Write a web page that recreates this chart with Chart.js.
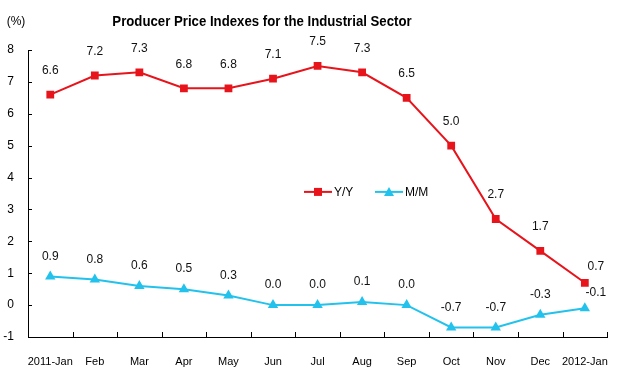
<!DOCTYPE html>
<html>
<head>
<meta charset="utf-8">
<script src="https://cdn.jsdelivr.net/npm/chart.js@4"></script>
<style>
  body { margin: 0; background: #fff; }
  #wrap { width: 618px; height: 369px; }
</style>
</head>
<body>
<div id="wrap"><canvas id="c" width="618" height="369"></canvas></div>
<script>
const months = ['2011-Jan', 'Feb', 'Mar', 'Apr', 'May', 'Jun', 'Jul', 'Aug', 'Sep', 'Oct', 'Nov', 'Dec', '2012-Jan'];
const yoy = [6.6, 7.2, 7.3, 6.8, 6.8, 7.1, 7.5, 7.3, 6.5, 5.0, 2.7, 1.7, 0.7];
const mom = [0.9, 0.8, 0.6, 0.5, 0.3, 0.0, 0.0, 0.1, 0.0, -0.7, -0.7, -0.3, -0.1];
const yTicks = [-1, 0, 1, 2, 3, 4, 5, 6, 7, 8];

const RED = '#e8141c';
const CYAN = '#22c2ec';
const FONT = '"Liberation Sans", Arial, sans-serif';

// title, unit label, data labels, inner ticks, legend
const extras = {
    id: 'extras',
    afterDatasetsDraw(chart) {
        const ctx = chart.ctx;
        const xs = chart.scales.x;
        const ys = chart.scales.y;
        const area = chart.chartArea;
        ctx.save();

        ctx.fillStyle = '#000';
        ctx.textAlign = 'center';
        ctx.textBaseline = 'middle';
        ctx.save();
        ctx.scale(0.88, 1);
        ctx.font = 'bold 15px ' + FONT;
        ctx.fillText('Producer Price Indexes for the Industrial Sector', 262 / 0.88, 22);
        ctx.restore();
        ctx.font = '12px ' + FONT;
        ctx.fillText('(%)', 16, 22);

        // data labels
        ctx.font = '12px ' + FONT;
        ctx.fillStyle = '#111';
        chart.data.datasets.forEach(function(ds, di) {
            const meta = chart.getDatasetMeta(di);
            meta.data.forEach(function(pt, i) {
                let dx = 0;
                let dy = di === 0 ? 24 : 20;
                if (i === ds.data.length - 1) { dx = 11; dy = 16; }
                ctx.fillText(ds.data[i].toFixed(1), pt.x + dx, pt.y - dy);
            });
        });

        // x tick marks pointing up between categories
        ctx.strokeStyle = '#000';
        ctx.lineWidth = 1;
        ctx.beginPath();
        for (let i = 0; i <= months.length; i++) {
            const x = Math.round(xs.left + (xs.right - xs.left) * i / months.length) + 0.5;
            ctx.moveTo(x, area.bottom);
            ctx.lineTo(x, area.bottom - 5);
        }
        // y tick marks inside
        yTicks.forEach(function(v) {
            const y = Math.round(ys.getPixelForValue(v)) + 0.5;
            ctx.moveTo(area.left, y);
            ctx.lineTo(area.left + 4, y);
        });
        ctx.stroke();

        // legend
        const ly = ys.getPixelForValue(3.55);
        ctx.lineWidth = 2;
        ctx.strokeStyle = RED;
        ctx.beginPath();
        ctx.moveTo(304, ly); ctx.lineTo(332, ly);
        ctx.stroke();
        ctx.fillStyle = RED;
        ctx.fillRect(314, ly - 4, 8, 8);
        ctx.strokeStyle = CYAN;
        ctx.beginPath();
        ctx.moveTo(375, ly); ctx.lineTo(403, ly);
        ctx.stroke();
        ctx.fillStyle = CYAN;
        ctx.beginPath();
        ctx.moveTo(389, ly - 5); ctx.lineTo(394, ly + 4); ctx.lineTo(384, ly + 4);
        ctx.closePath();
        ctx.fill();
        ctx.fillStyle = '#000';
        ctx.font = '12px ' + FONT;
        ctx.textAlign = 'left';
        ctx.fillText('Y/Y', 334, ly + 1);
        ctx.fillText('M/M', 405, ly + 1);
        ctx.restore();
    }
};

const ctx = document.getElementById('c').getContext('2d');
const chart = new Chart(ctx, {
    type: 'line',
    data: {
        labels: months,
        datasets: [{
            label: 'Y/Y',
            data: yoy,
            borderColor: RED,
            backgroundColor: RED,
            borderWidth: 2,
            pointStyle: 'rect',
            pointRadius: 5.5,
            pointBorderWidth: 0,
            tension: 0
        }, {
            label: 'M/M',
            data: mom,
            borderColor: CYAN,
            backgroundColor: CYAN,
            borderWidth: 2,
            pointStyle: 'triangle',
            pointRadius: 6,
            pointBorderWidth: 0,
            tension: 0
        }]
    },
    options: {
        responsive: false,
        animation: false,
        layout: { padding: { top: 50, right: 4, left: 0, bottom: 0 } },
        plugins: {
            legend: { display: false },
            title: { display: false },
            tooltip: { enabled: false }
        },
        scales: {
            x: {
                offset: true,
                grid: { display: false },
                border: { color: '#000', width: 1 },
                ticks: {
                    color: '#000',
                    font: { family: '"Liberation Sans Narrow", ' + FONT, size: 11 },
                    maxRotation: 0,
                    autoSkip: false,
                    padding: 10
                },
                afterFit: function(s) { s.height = 32; }
            },
            y: {
                min: -1,
                max: 8,
                afterBuildTicks: function(s) { s.ticks = yTicks.map(function(v) { return { value: v }; }); },
                grid: { display: false },
                border: { color: '#000', width: 1 },
                ticks: {
                    color: '#000',
                    font: { family: FONT, size: 12 },
                    padding: 6
                },
                afterFit: function(s) { s.width = 28; }
            }
        }
    },
    plugins: [extras]
});
</script>
</body>
</html>
